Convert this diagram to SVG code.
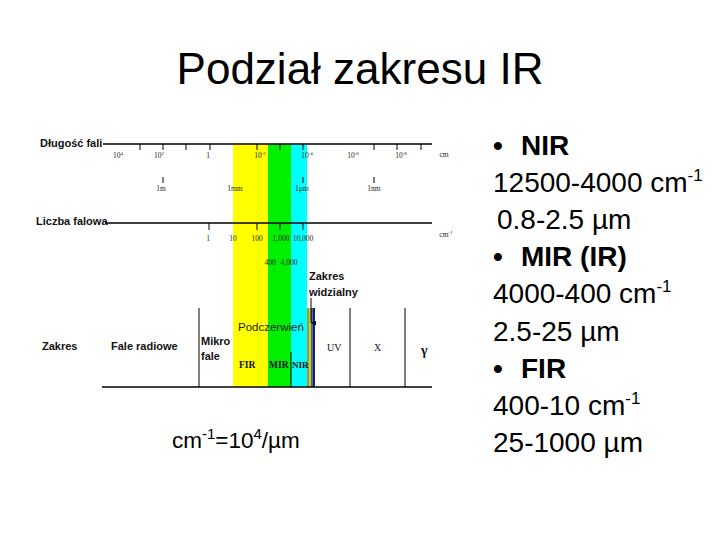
<svg xmlns="http://www.w3.org/2000/svg" width="720" height="540" viewBox="0 0 720 540">
<defs>
<style>
.ax{stroke:#000;stroke-width:1.3;fill:none}
.tk{stroke:#000;stroke-width:1;fill:none}
.lbl{font-family:"Liberation Sans",Arial,sans-serif;font-size:11px;font-weight:bold;fill:#111}
.tiny{font-family:"Liberation Serif","Times New Roman",serif;font-size:7.5px;fill:#222}
.ser{font-family:"Liberation Serif","Times New Roman",serif;fill:#111}
.big{font-family:"Liberation Sans",Arial,sans-serif;font-size:28px;fill:#000}
</style>
<marker id="arr" viewBox="0 0 6 6" refX="3" refY="6" markerWidth="5" markerHeight="5" orient="auto-start-reverse" markerUnits="userSpaceOnUse">
<path d="M0,0 L3,6 L6,0 Z" fill="#000"/>
</marker>
</defs>
<rect width="720" height="540" fill="#fff"/>

<g id="title">
<text x="360" y="84" text-anchor="middle" font-family="Liberation Sans, Arial, sans-serif" font-size="44" fill="#000">Podział zakresu IR</text>
</g>

<g id="bands">
<rect x="233" y="144" width="35" height="243" fill="#ffff00"/>
<rect x="268" y="144" width="23" height="243" fill="#00f000"/>
<rect x="291" y="144" width="16" height="243" fill="#00ffff"/>
<rect x="307" y="308" width="2" height="79" fill="#9c9c3a"/>
<rect x="309" y="308" width="2" height="79" fill="#d0d020"/>
<rect x="311" y="308" width="1.5" height="79" fill="#4060a8"/>
<rect x="312.5" y="308" width="2.5" height="79" fill="#14206e"/>
</g>

<g id="wavelength-axis">
<text class="lbl" x="40" y="147">Długość fali</text>
<line class="ax" x1="103" y1="144" x2="432" y2="144"/>
<path class="tk" d="M140,144v6M163,144v6M186,144v6M210,144v6M257,144v6M280,144v6M303,144v6M374,144v6M397,144v6M421,144v6"/>
<text class="tiny" x="118" y="158" text-anchor="middle">10<tspan dy="-3" font-size="5">4</tspan></text>
<text class="tiny" x="159" y="158" text-anchor="middle">10<tspan dy="-3" font-size="5">2</tspan></text>
<text class="tiny" x="208" y="158" text-anchor="middle">1</text>
<text class="tiny" x="260" y="158" text-anchor="middle">10<tspan dy="-3" font-size="5">-2</tspan></text>
<text class="tiny" x="307" y="158" text-anchor="middle">10<tspan dy="-3" font-size="5">-4</tspan></text>
<text class="tiny" x="353" y="158" text-anchor="middle">10<tspan dy="-3" font-size="5">-6</tspan></text>
<text class="tiny" x="401" y="158" text-anchor="middle">10<tspan dy="-3" font-size="5">-8</tspan></text>
<text class="tiny" x="444" y="157" text-anchor="middle">cm</text>
<path class="tk" d="M163,177v6M303,177v6M374,177v6"/>
<text class="tiny" x="161" y="191" text-anchor="middle">1m</text>
<text class="tiny" x="235" y="191" text-anchor="middle">1mm</text>
<text class="tiny" x="302" y="191" text-anchor="middle">1µm</text>
<text class="tiny" x="374" y="191" text-anchor="middle">1nm</text>
</g>

<g id="wavenumber-axis">
<text class="lbl" x="36" y="225">Liczba falowa</text>
<line class="ax" x1="105" y1="223" x2="432" y2="223"/>
<path class="tk" d="M209,223v7M257,223v7M280,223v7M303,223v7"/>
<text class="tiny" x="208" y="241" text-anchor="middle">1</text>
<text class="tiny" x="233" y="241" text-anchor="middle">10</text>
<text class="tiny" x="257" y="241" text-anchor="middle">100</text>
<text class="tiny" x="281" y="241" text-anchor="middle">1,000</text>
<text class="tiny" x="303" y="241" text-anchor="middle">10,000</text>
<text class="tiny" x="446" y="237" text-anchor="middle">cm<tspan dy="-3" font-size="5">-1</tspan></text>
<text class="tiny" x="270" y="265" text-anchor="middle">400</text>
<text class="tiny" x="289" y="265" text-anchor="middle">4,000</text>
</g>

<g id="ranges">
<text class="lbl" x="42" y="350">Zakres</text>
<text class="lbl" x="111" y="350">Fale radiowe</text>
<text class="lbl" x="201" y="345">Mikro</text>
<text class="lbl" x="201" y="360">fale</text>
<line class="tk" x1="199" y1="308" x2="199" y2="387"/>
<line class="tk" x1="350" y1="308" x2="350" y2="387"/>
<line class="tk" x1="405" y1="308" x2="405" y2="387"/>
<line class="tk" x1="291" y1="352" x2="291" y2="387"/>
<line class="ax" x1="102" y1="387" x2="432" y2="387"/>
<text x="238" y="331" font-family="Liberation Sans, Arial, sans-serif" font-size="11.5" fill="#222">Podczerwień</text>
<text class="ser" x="239" y="368" font-size="9.5" font-weight="bold">FIR</text>
<text class="ser" x="269" y="368" font-size="9.5" font-weight="bold">MIR</text>
<text class="ser" x="292" y="368" font-size="9" font-weight="bold">NIR</text>
<text class="ser" x="327" y="351" font-size="10">UV</text>
<text class="ser" x="374" y="351" font-size="10">X</text>
<text class="ser" x="421" y="355" font-size="14" font-weight="bold">γ</text>
<text class="lbl" x="309" y="280">Zakres</text>
<text class="lbl" x="309" y="296">widzialny</text>
</g>

<g id="connectors">
<line class="tk" x1="311" y1="298" x2="311" y2="323" marker-end="url(#arr)"/>
</g>

<g id="formula">
<text x="172" y="448" font-family="Liberation Sans, Arial, sans-serif" font-size="22.5" fill="#000">cm<tspan dy="-9" font-size="15">-1</tspan><tspan dy="9">=10</tspan><tspan dy="-9" font-size="15">4</tspan><tspan dy="9">/µm</tspan></text>
</g>

<g id="ir-list">
<text class="big" x="493" y="155" font-weight="bold">•</text>
<text class="big" x="521" y="155" font-weight="bold">NIR</text>
<text class="big" x="493" y="192">12500-4000 cm<tspan dy="-11" font-size="17">-1</tspan></text>
<text class="big" x="497" y="229">0.8-2.5 µm</text>
<text class="big" x="493" y="266" font-weight="bold">•</text>
<text class="big" x="521" y="266" font-weight="bold">MIR (IR)</text>
<text class="big" x="493" y="303">4000-400 cm<tspan dy="-11" font-size="17">-1</tspan></text>
<text class="big" x="493" y="341">2.5-25 µm</text>
<text class="big" x="493" y="378" font-weight="bold">•</text>
<text class="big" x="521" y="378" font-weight="bold">FIR</text>
<text class="big" x="493" y="415">400-10 cm<tspan dy="-11" font-size="17">-1</tspan></text>
<text class="big" x="493" y="452">25-1000 µm</text>
</g>
</svg>
